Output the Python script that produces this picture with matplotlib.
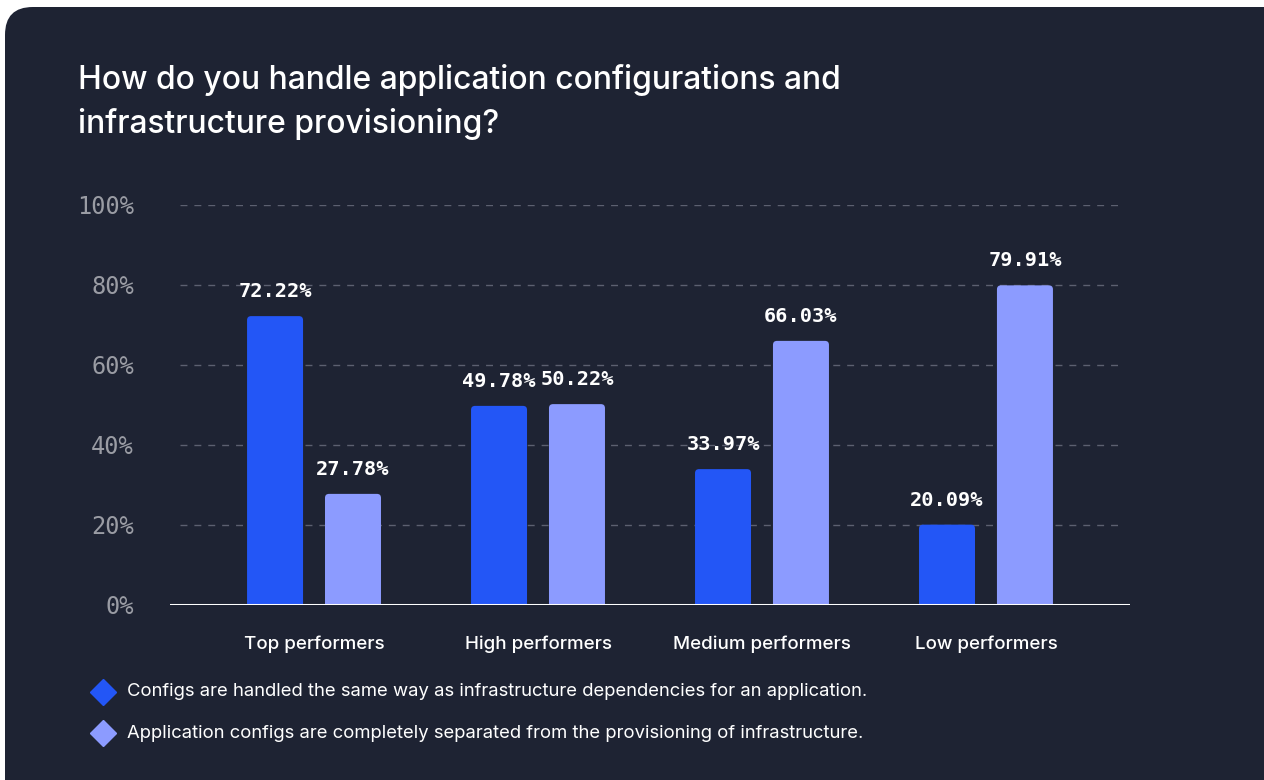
import matplotlib
matplotlib.use("Agg")
import matplotlib.pyplot as plt
from matplotlib.patches import FancyBboxPatch
from matplotlib.lines import Line2D
import numpy as np

categories = ["Top performers", "High performers", "Medium performers", "Low performers"]
same_way = [72.22, 49.78, 33.97, 20.09]
separated = [27.78, 50.22, 66.03, 79.91]
series_labels = [
    "Configs are handled the same way as infrastructure dependencies for an application.",
    "Application configs are completely separated from the provisioning of infrastructure.",
]
y_ticks = [0, 20, 40, 60, 80, 100]
title = "How do you handle application configurations and\ninfrastructure provisioning?"

BG = "#1e2333"
BLUE = "#2356f6"
LIGHT = "#8c9bff"
GRID = "#5c6070"
TICK = "#9a9ca4"
W, H = 1264, 780

fig = plt.figure(figsize=(W / 100, H / 100), dpi=100, facecolor="white")

# dark rounded card behind everything
card = FancyBboxPatch((5 / W, -40 / H), (W + 40) / W, (H + 40 - 7) / H,
                      boxstyle="round,pad=0,rounding_size=0.022",
                      transform=fig.transFigure, facecolor=BG, edgecolor="none",
                      mutation_aspect=W / H, zorder=-10)
fig.patches.append(card)

ax = fig.add_axes([170 / W, (H - 605) / H, 960 / W, 400 / H])
ax.set_facecolor("none")
ax.set_xlim(-0.643, 3.643)
ax.set_ylim(0, 100)

x = np.arange(len(categories))
bw = 0.25
off = 0.174
b1 = ax.bar(x - off, same_way, bw, color=BLUE, zorder=3)
b2 = ax.bar(x + off, separated, bw, color=LIGHT, zorder=3)

# swap the plain rectangles for ones with softly rounded tops
xpx = 960 / (3.643 + 0.643)
ypx = 400 / 100
for bars in (b1, b2):
    for rect in bars:
        rect.set_visible(False)
        rb = FancyBboxPatch((rect.get_x(), -3), rect.get_width(), rect.get_height() + 3,
                            boxstyle=f"round,pad=0,rounding_size={4 / xpx}",
                            mutation_aspect=xpx / ypx,
                            facecolor=rect.get_facecolor(), edgecolor="none",
                            zorder=3, clip_on=True)
        ax.add_patch(rb)

for bars, vals in ((b1, same_way), (b2, separated)):
    for rect, v in zip(bars, vals):
        ax.annotate(f"{v:.2f}%", (rect.get_x() + rect.get_width() / 2, v),
                    xytext=(0, 15), textcoords="offset pixels",
                    ha="center", va="bottom", color="white",
                    fontsize=14.6, fontweight="bold", family="DejaVu Sans Mono")

ax.set_yticks(y_ticks)
ax.set_yticklabels([f"{t}%" for t in y_ticks], family="DejaVu Sans Mono",
                   fontsize=17, color=TICK)
ax.tick_params(axis="y", length=0, pad=26)
ax.set_xticks(x)
ax.set_xticklabels(categories, family="Inter", fontsize=13.5, color="white",
                   fontweight="medium")
ax.tick_params(axis="x", length=0, pad=22)

for t in y_ticks[1:]:
    ax.plot([-0.6, 3.6], [t, t], color=GRID, lw=1, ls=(0, (5, 5)), zorder=1)
ax.axhline(0, color="white", lw=2.2, zorder=4)
for s in ax.spines.values():
    s.set_visible(False)

fig.text(78 / W, 1 - 64 / H, title, ha="left", va="top", color="white",
         fontsize=22.95, family="Inter", fontweight="medium", linespacing=1.5)

for i, (lab, col) in enumerate(zip(series_labels, [BLUE, LIGHT])):
    yy = 1 - (692 + 41 * i) / H
    fig.add_artist(Line2D([103 / W], [yy], marker="D", markersize=13,
                          color=col, transform=fig.transFigure, ls="none"))
    fig.text(127 / W, yy, lab, ha="left", va="center", color="white",
             fontsize=13.3, family="Inter")

fig.savefig("out.png", dpi=100, facecolor="white")
